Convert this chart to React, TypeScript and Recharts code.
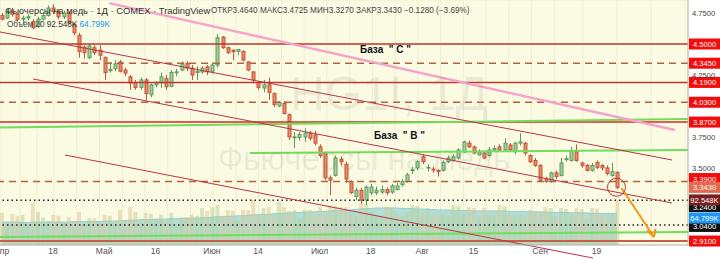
import React from 'react';
import { ComposedChart, Bar, Area, XAxis, YAxis, CartesianGrid, ReferenceLine, ReferenceDot, Cell } from 'recharts';

// ---- data (bar index 1 = 1 Apr, 121 = 23 Sep) ----
const openP = [4.73,4.71,4.76,4.74,4.70,4.71,4.68,4.64,4.70,4.73,4.79,4.76,4.72,4.75,4.66,4.57,4.475,4.39,4.47,4.45,4.39,4.285,4.30,4.355,4.29,4.235,4.19,4.15,4.21,4.09,4.17,4.185,4.22,4.16,4.27,4.29,4.345,4.305,4.27,4.275,4.315,4.28,4.33,4.555,4.47,4.45,4.44,4.44,4.355,4.275,4.19,4.145,4.17,4.10,4.00,4.02,3.93,3.745,3.745,3.75,3.78,3.765,3.67,3.62,3.42,3.44,3.57,3.53,3.39,3.27,3.32,3.24,3.30,3.30,3.305,3.325,3.305,3.325,3.365,3.39,3.48,3.50,3.59,3.50,3.49,3.48,3.48,3.55,3.56,3.58,3.63,3.70,3.67,3.605,3.62,3.60,3.645,3.67,3.645,3.685,3.63,3.70,3.70,3.60,3.56,3.52,3.41,3.39,3.46,3.44,3.57,3.56,3.63,3.54,3.52,3.48,3.545,3.52,3.50,3.44,3.464];
const highP = [4.75,4.78,4.79,4.75,4.73,4.74,4.70,4.72,4.76,4.81,4.82,4.78,4.77,4.76,4.67,4.59,4.49,4.50,4.49,4.49,4.40,4.355,4.37,4.37,4.31,4.25,4.21,4.23,4.225,4.18,4.20,4.27,4.25,4.29,4.30,4.36,4.36,4.33,4.32,4.32,4.33,4.35,4.58,4.565,4.48,4.455,4.46,4.45,4.36,4.28,4.20,4.21,4.23,4.11,4.04,4.04,3.94,3.79,3.79,3.82,3.80,3.80,3.69,3.63,3.44,3.60,3.59,3.55,3.40,3.34,3.34,3.36,3.37,3.35,3.36,3.345,3.37,3.38,3.41,3.46,3.51,3.56,3.61,3.53,3.51,3.49,3.56,3.60,3.61,3.66,3.72,3.72,3.68,3.65,3.64,3.67,3.68,3.69,3.74,3.70,3.71,3.78,3.71,3.61,3.58,3.53,3.43,3.47,3.48,3.58,3.60,3.67,3.69,3.55,3.53,3.54,3.56,3.53,3.52,3.54,3.4725];
const lowP = [4.69,4.70,4.72,4.68,4.66,4.69,4.62,4.63,4.69,4.72,4.74,4.70,4.70,4.66,4.57,4.39,4.38,4.38,4.41,4.37,4.21,4.27,4.28,4.27,4.24,4.13,4.13,4.13,4.045,4.07,4.15,4.145,4.13,4.15,4.24,4.28,4.28,4.21,4.21,4.26,4.25,4.26,4.31,4.46,4.42,4.37,4.41,4.36,4.28,4.19,4.13,4.11,4.05,3.99,3.99,3.93,3.725,3.66,3.72,3.71,3.72,3.68,3.58,3.40,3.28,3.43,3.52,3.38,3.29,3.24,3.21,3.20,3.28,3.28,3.29,3.28,3.29,3.32,3.35,3.38,3.45,3.48,3.53,3.47,3.46,3.43,3.47,3.54,3.55,3.57,3.62,3.66,3.61,3.60,3.57,3.59,3.63,3.63,3.63,3.63,3.61,3.68,3.60,3.54,3.51,3.39,3.38,3.38,3.41,3.43,3.55,3.55,3.55,3.50,3.47,3.47,3.49,3.48,3.44,3.43,3.327];
const closeP = [4.70,4.76,4.74,4.70,4.71,4.72,4.63,4.70,4.73,4.79,4.76,4.72,4.75,4.67,4.59,4.44,4.43,4.485,4.43,4.41,4.27,4.295,4.34,4.28,4.265,4.185,4.15,4.21,4.10,4.17,4.185,4.235,4.155,4.27,4.275,4.34,4.305,4.25,4.28,4.305,4.275,4.33,4.55,4.47,4.43,4.44,4.455,4.37,4.29,4.21,4.15,4.17,4.11,4.01,4.03,3.94,3.75,3.75,3.77,3.78,3.74,3.70,3.60,3.42,3.40,3.58,3.55,3.41,3.30,3.32,3.24,3.345,3.345,3.32,3.325,3.30,3.355,3.355,3.39,3.445,3.485,3.55,3.55,3.505,3.485,3.47,3.545,3.58,3.59,3.645,3.71,3.67,3.62,3.63,3.58,3.645,3.655,3.645,3.70,3.645,3.70,3.71,3.62,3.55,3.52,3.40,3.39,3.46,3.43,3.54,3.575,3.64,3.56,3.52,3.48,3.52,3.505,3.50,3.455,3.471,3.343];
const volumeK = [66,45,64,60,62,40,86,68,57,50,62,60,45,57,48,68,44,55,55,42,62,60,48,72,50,78,68,46,66,64,50,62,48,66,40,57,57,62,60,76,70,78,82,60,72,70,50,72,72,92,60,76,78,58,88,78,70,72,55,72,72,58,78,60,82,80,78,78,65,60,85,84,68,62,60,78,76,64,60,66,82,80,66,76,60,62,64,60,82,80,66,78,76,58,76,62,60,82,80,64,60,62,58,72,70,66,78,76,58,76,74,62,76,74,56,76,75,60,58,62,92.548];
const volumeMA = [47,47,47,47,46,46,47,47,47,47,47,47,47,47,48,48,48,48,48,48,49,49,49,50,50,51,51,52,52,52,53,53,53,54,54,54,55,55,55,56,56,57,58,58,59,59,60,60,61,62,62,63,63,64,65,65,66,66,67,67,68,68,69,69,70,71,71,72,72,73,74,75,75,76,76,76,76,76,75,75,75,74,74,73,73,72,72,72,71,71,71,71,70,70,70,70,70,70,70,69,69,69,69,68,68,68,68,67,67,67,67,66,66,66,66,65,65,65,65,65,64.799];

const tickIndex = [1, 11, 21, 31, 42, 51, 63, 73, 83, 93, 106, 117];
const tickLabels = ['Апр', '18', 'Май', '16', 'Июн', '14', 'Июл', '18', 'Авг', '15', 'Сен', '19'];
const gridPrices = [4.75, 4.5, 4.25, 4.0, 3.75, 3.5, 3.25, 3.0];
const shownPrices = [4.75, 4.25, 3.75, 3.5];

const solidLevels = [4.5, 4.19];
const brightLevel = 3.87;
const dashedLevels = [4.345, 4.03, 3.39];
const dottedLevels = [3.24, 3.04];
const bottomLevel = 2.91;

const data = openP.map((o, k) => ({
  i: k + 1,
  open: o,
  high: highP[k],
  low: lowP[k],
  close: closeP[k],
  range: [lowP[k], highP[k]],
  vol: volumeK[k],
  ma: volumeMA[k],
}));

const X_DOMAIN: [number, number] = [0.68, 134.85];
const Y_DOMAIN: [number, number] = [2.878, 4.855];
const FONT = '"Liberation Sans", Arial, sans-serif';

const Candle = (props: any) => {
  const { x, y, width, height, payload } = props;
  if (!payload) return null;
  const { open, close, high, low } = payload;
  const h = Math.abs(height);
  const top0 = height < 0 ? y + height : y;
  const ppu = h / (high - low);
  const yOf = (p: number) => top0 + (high - p) * ppu;
  const up = close >= open;
  const fill = up ? '#a3d09a' : '#eb8a63';
  const stroke = up ? '#5d9a5e' : '#c0563a';
  const cx = Math.round(x + width / 2) + 0.5;
  const bt = yOf(Math.max(open, close));
  const bb = yOf(Math.min(open, close));
  return (
    <g>
      <line x1={cx} x2={cx} y1={top0} y2={top0 + h} stroke={stroke} strokeWidth={1} />
      <rect x={cx - 1.5} y={bt} width={3} height={Math.max(0.8, bb - bt)} fill={fill} stroke={stroke} strokeWidth={1} />
    </g>
  );
};

const makeTag = (text: string, bg: string, dy = 0, color = '#fff') => (props: any) => {
  const vb = props.viewBox || {};
  const right = (vb.x || 0) + (vb.width || 0);
  const cy = (vb.y || 0) + dy;
  return (
    <g>
      <rect x={right + 1} y={cy - 5.5} width={31} height={11} fill={bg} />
      <text x={right + 16.5} y={cy + 3} textAnchor="middle" fontSize={7.6} fontFamily={FONT} fill={color}>{text}</text>
    </g>
  );
};

const PriceTick = (props: any) => {
  const { x, y, payload } = props;
  if (!shownPrices.includes(payload.value)) return null;
  return (
    <text x={x + 4} y={y + 3} fontSize={7.6} fontFamily={FONT} fill="#444">{payload.value.toFixed(4)}</text>
  );
};

const TimeTick = (props: any) => {
  const { x, payload } = props;
  const k = tickIndex.indexOf(payload.value);
  return (
    <text x={x} y={254} textAnchor="middle" fontSize={8.5} fontFamily={FONT} fill="#555">{k >= 0 ? tickLabels[k] : ''}</text>
  );
};

export default function App() {
  return (
    <div style={{ position: 'absolute', left: 0, top: 0, width: 720, height: 259, background: '#fff', overflow: 'hidden' }}>
      <ComposedChart width={720} height={259} data={data} margin={{ top: 0, right: 0, bottom: 0, left: 0 }}>
        <CartesianGrid fill="#fbfbe4" stroke="#efeed2" />
        <XAxis xAxisId="p" dataKey="i" type="number" domain={X_DOMAIN} allowDataOverflow ticks={tickIndex} tick={<TimeTick />} tickLine={false} axisLine={{ stroke: '#b4b4b4' }} height={14} interval={0} />
        <XAxis xAxisId="v" dataKey="i" type="number" domain={X_DOMAIN} allowDataOverflow hide />
        <YAxis yAxisId="p" orientation="right" type="number" domain={Y_DOMAIN} allowDataOverflow ticks={gridPrices} tick={<PriceTick />} tickLine={false} tickSize={0} tickMargin={0} axisLine={{ stroke: '#b4b4b4' }} width={32} interval={0} />
        <YAxis yAxisId="v" type="number" domain={[0, 503]} allowDataOverflow hide />

        <Bar xAxisId="v" yAxisId="v" dataKey="vol" barSize={4} isAnimationActive={false}>
          {data.map((d) => (
            <Cell key={d.i} fill={d.close >= d.open ? '#b8cf98' : '#d9c594'} fillOpacity={0.5} />
          ))}
        </Bar>
        <Area xAxisId="v" yAxisId="v" dataKey="ma" type="monotone" fill="#6cc1c6" fillOpacity={0.5} stroke="#8fd0d2" strokeWidth={1} isAnimationActive={false} dot={false} activeDot={false} />

        {solidLevels.map((v) => (
          <ReferenceLine key={'s' + v} xAxisId="p" yAxisId="p" y={v} stroke="#b83a2a" strokeWidth={1.5} label={makeTag(v.toFixed(4), '#f20c0c')} />
        ))}
        <ReferenceLine xAxisId="p" yAxisId="p" y={brightLevel} stroke="#d42a1e" strokeWidth={1.5} label={makeTag(brightLevel.toFixed(4), '#f20c0c')} />
        {dashedLevels.map((v) => (
          <ReferenceLine key={'d' + v} xAxisId="p" yAxisId="p" y={v} stroke="#b4623e" strokeWidth={1.5} strokeDasharray="7 5" label={makeTag(v.toFixed(4), '#f20c0c', v === 3.39 ? -3 : 0)} />
        ))}
        {dottedLevels.map((v) => (
          <ReferenceLine key={'o' + v} xAxisId="p" yAxisId="p" y={v} stroke="#222" strokeWidth={1.5} strokeDasharray="1.5 3" label={makeTag(v.toFixed(4), '#111', v === 3.24 ? 6.5 : 1.5)} />
        ))}
        <ReferenceLine xAxisId="p" yAxisId="p" y={bottomLevel} stroke="#c4604a" strokeWidth={2} label={makeTag(bottomLevel.toFixed(4), '#f20c0c')} />

        {/* green trend lines */}
        <ReferenceLine xAxisId="p" yAxisId="p" ifOverflow="visible" segment={[{ x: 0.68, y: 3.826 }, { x: 134.85, y: 3.895 }]} stroke="#72dc5c" strokeWidth={2} />
        <ReferenceLine xAxisId="p" yAxisId="p" ifOverflow="visible" segment={[{ x: 49.4, y: 3.62 }, { x: 134.85, y: 3.645 }]} stroke="#72dc5c" strokeWidth={2} />
        <ReferenceLine xAxisId="p" yAxisId="p" ifOverflow="visible" segment={[{ x: 0.68, y: 2.943 }, { x: 134.85, y: 2.983 }]} stroke="#72dc5c" strokeWidth={2} />

        {/* channel lines */}
        <ReferenceLine xAxisId="p" yAxisId="p" ifOverflow="visible" segment={[{ x: 0.68, y: 4.597 }, { x: 131.73, y: 3.564 }]} stroke="#bb3346" strokeWidth={1} />
        <ReferenceLine xAxisId="p" yAxisId="p" ifOverflow="visible" segment={[{ x: 7.12, y: 4.218 }, { x: 131.73, y: 3.217 }]} stroke="#bb3346" strokeWidth={1} />
        <ReferenceLine xAxisId="p" yAxisId="p" ifOverflow="visible" segment={[{ x: 13.36, y: 3.604 }, { x: 116.3, y: 2.773 }]} stroke="#bb3346" strokeWidth={1} />
        <ReferenceLine xAxisId="p" yAxisId="p" ifOverflow="visible" segment={[{ x: 22.0, y: 4.83 }, { x: 132.3, y: 3.806 }]} stroke="#f5a3c7" strokeWidth={2.5} />

        <Bar xAxisId="p" yAxisId="p" dataKey="range" barSize={4} shape={<Candle />} isAnimationActive={false} />

        {/* last price & volume tags */}
        <ReferenceLine xAxisId="p" yAxisId="p" y={3.343} stroke="none" label={makeTag('3.3430', '#e4694f')} />
        <ReferenceLine xAxisId="p" yAxisId="v" y={92.548} stroke="none" label={makeTag('92.548K', '#7a1d1d')} />
        <ReferenceLine xAxisId="p" yAxisId="v" y={64.799} stroke="none" label={makeTag('64.799K', '#2196f3', 4.6)} />

        {/* annotation: circle + arrow */}
        <ReferenceDot xAxisId="p" yAxisId="p" x={120.9} y={3.344} r={9} fill="none" stroke="#c0392b" strokeWidth={1} ifOverflow="visible" />
        <ReferenceLine xAxisId="p" yAxisId="p" ifOverflow="visible" segment={[{ x: 121.88, y: 3.338 }, { x: 128.22, y: 2.9425 }]} stroke="#f7931a" strokeWidth={2} />
        <ReferenceLine xAxisId="p" yAxisId="p" ifOverflow="visible" segment={[{ x: 126.85, y: 2.995 }, { x: 128.22, y: 2.9425 }]} stroke="#f7931a" strokeWidth={2} />
        <ReferenceLine xAxisId="p" yAxisId="p" ifOverflow="visible" segment={[{ x: 128.5, y: 3.007 }, { x: 128.22, y: 2.9425 }]} stroke="#f7931a" strokeWidth={2} />
      </ComposedChart>

      {/* watermark */}
      <div style={{ position: 'absolute', left: 290, top: 66, fontFamily: FONT, fontSize: 48, color: 'rgba(120,120,100,0.12)', whiteSpace: 'nowrap', pointerEvents: 'none' }}>HG1!, 1Д</div>
      <div style={{ position: 'absolute', left: 218, top: 140, fontFamily: FONT, fontSize: 33, color: 'rgba(120,120,100,0.12)', whiteSpace: 'nowrap', pointerEvents: 'none' }}>Фьючерсы на медь</div>

      {/* legend */}
      <div style={{ position: 'absolute', left: 5, top: 4.5, fontFamily: FONT, fontSize: 9.4, color: '#333', whiteSpace: 'nowrap' }}>Фьючерсы на медь · 1Д · COMEX · TradingView</div>
      <div style={{ position: 'absolute', left: 211, top: 6, fontFamily: FONT, fontSize: 8.2, color: '#444', whiteSpace: 'nowrap' }}>ОТКР3.4640 МАКС3.4725 МИН3.3270 ЗАКР3.3430 −0.1280 (−3.69%)</div>
      <div style={{ position: 'absolute', left: 7, top: 19.5, fontFamily: FONT, fontSize: 8.2, color: '#444', whiteSpace: 'nowrap' }}>Объём 20 <span style={{ color: '#333' }}>92.548K</span> <span style={{ color: '#2196f3' }}>64.799K</span></div>

      {/* drawing texts */}
      <div style={{ position: 'absolute', left: 360, top: 44, fontFamily: FONT, fontSize: 10, fontWeight: 'bold', color: '#111', whiteSpace: 'nowrap' }}>База &nbsp;" С "</div>
      <div style={{ position: 'absolute', left: 374, top: 130, fontFamily: FONT, fontSize: 10, fontWeight: 'bold', color: '#111', whiteSpace: 'nowrap' }}>База &nbsp;" В "</div>
    </div>
  );
}
